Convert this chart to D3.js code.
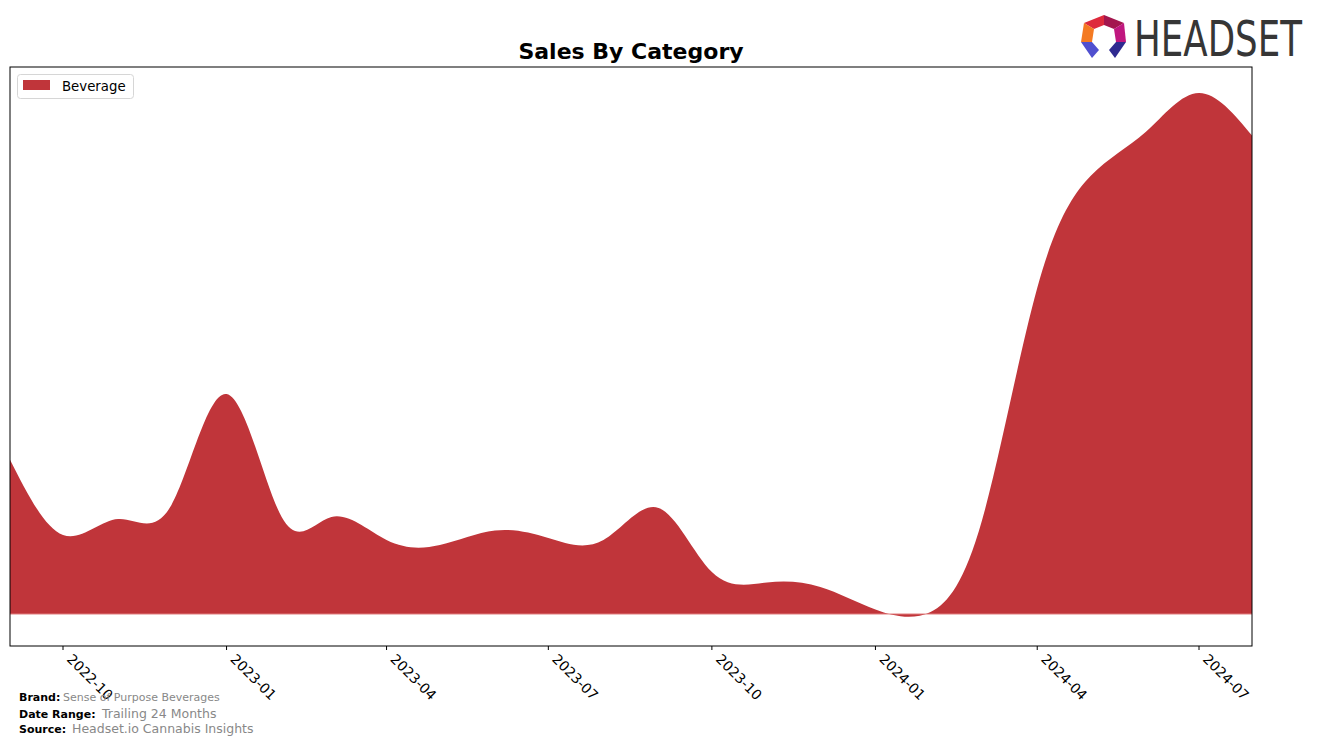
<!DOCTYPE html>
<html>
<head>
<meta charset="utf-8">
<script src="https://cdn.jsdelivr.net/npm/d3@7"></script>
<style>
  html, body { margin: 0; padding: 0; background: #fff; }
  svg { display: block; font-family: "DejaVu Sans", sans-serif; }
</style>
</head>
<body>
<svg id="chart" width="1317" height="746"></svg>
<script>
// ---- data ----
const months = ["2022-09","2022-10","2022-11","2022-12","2023-01","2023-02","2023-03","2023-04",
                "2023-05","2023-06","2023-07","2023-08","2023-09","2023-10","2023-11","2023-12",
                "2024-01","2024-02","2024-03","2024-04","2024-05","2024-06","2024-07","2024-08"];
const beverage = [155, 79, 95, 109, 220, 97, 97, 74,
                  69, 83.5, 76, 74, 106, 42, 31.5, 27,
                  4.5, 2, 94, 326, 438, 482, 521, 476];
const tickLabels = ["2022-10","2023-01","2023-04","2023-07","2023-10","2024-01","2024-04","2024-07"];
const seriesName = "Beverage";
const brand = "Sense of Purpose Beverages";
const dateRange = "Trailing 24 Months";
const source = "Headset.io Cannabis Insights";

(function () {
const parse = d3.timeParse("%Y-%m");
const data = months.map((m, i) => ({ date: parse(m), value: beverage[i] }));

const svg = d3.select("#chart");
const L = 10, R = 1252, T = 67, B = 646;

const x = d3.scaleTime()
  .domain([parse("2022-10"), parse("2024-07")])
  .range([63, 1199]);
const y = d3.scaleLinear().domain([-32, 547]).range([B, T]);

svg.append("defs").append("clipPath").attr("id", "clip")
  .append("rect").attr("x", L).attr("y", T).attr("width", R - L).attr("height", B - T);

const color = "#c0353a";
const area = d3.area()
  .x(d => x(d.date))
  .y0(y(0))
  .y1(d => y(d.value))
  .curve(d3.curveNatural);

const g = svg.append("g").attr("clip-path", "url(#clip)");
g.append("path").datum(data).attr("d", area).attr("fill", color);
g.append("line").attr("x1", L).attr("x2", R).attr("y1", y(0)).attr("y2", y(0))
  .attr("stroke", "#e07c7c").attr("stroke-width", 1);

// axes frame
svg.append("rect").attr("x", L).attr("y", T).attr("width", R - L).attr("height", B - T)
  .attr("fill", "none").attr("stroke", "#000").attr("stroke-width", 1);

// x ticks
const tickDates = tickLabels.map(parse);
const tg = svg.append("g").selectAll("g").data(tickDates).enter().append("g");
tg.append("line").attr("x1", d => x(d)).attr("x2", d => x(d))
  .attr("y1", B).attr("y2", B + 4).attr("stroke", "#000").attr("stroke-width", 1);
tg.append("text")
  .attr("transform", d => `translate(${x(d) + 3},${B + 14}) rotate(45)`)
  .attr("font-size", "13.9px").attr("fill", "#000")
  .text(d => d3.timeFormat("%Y-%m")(d));

// title
svg.append("text").attr("x", (L + R) / 2).attr("y", 59).attr("text-anchor", "middle")
  .attr("font-size", "22px").attr("font-weight", "bold").text("Sales By Category");

// legend
const lg = svg.append("g");
lg.append("rect").attr("x", 17.5).attr("y", 74.5).attr("width", 116).attr("height", 24).attr("rx", 3)
  .attr("fill", "#fff").attr("stroke", "#d6d6d6").attr("stroke-width", 1);
lg.append("rect").attr("x", 23).attr("y", 80).attr("width", 27).attr("height", 10).attr("fill", color);
lg.append("text").attr("x", 62).attr("y", 90.5).attr("font-size", "13.3px").text(seriesName);

// footer
const foot = [
  { label: "Brand:", value: brand, y: 701, vx: 63, vs: 11 },
  { label: "Date Range:", value: dateRange, y: 718, vx: 102, vs: 12.5 },
  { label: "Source:", value: source, y: 733, vx: 72, vs: 12.5 }
];
foot.forEach(f => {
  svg.append("text").attr("x", 19).attr("y", f.y).attr("font-size", "11px").attr("font-weight", "bold")
    .attr("fill", "#000").text(f.label);
  svg.append("text").attr("x", f.vx).attr("y", f.y).attr("font-size", f.vs + "px")
    .attr("fill", "#888").text(f.value);
});

// logo
const logo = svg.append("g");
const polys = [
  { pts: [[1084,23],[1104,15],[1104,25],[1094,29]], c: "#de2a3c" },
  { pts: [[1104,15],[1124,23],[1114,29],[1104,25]], c: "#a3164e" },
  { pts: [[1084,23],[1094,29],[1092,42],[1081,42]], c: "#f47a22" },
  { pts: [[1124,23],[1126,42],[1116,42],[1114,29]], c: "#c0177f" },
  { pts: [[1081,42],[1092,42],[1099,50],[1092,58]], c: "#5050cf" },
  { pts: [[1126,42],[1116,42],[1109,50],[1115,58]], c: "#2f2a90" }
];
polys.forEach(p => {
  logo.append("polygon").attr("points", p.pts.map(q => q.join(",")).join(" ")).attr("fill", p.c);
});
const lt = logo.append("text").attr("x", 0).attr("y", 0).attr("font-size", "49px")
  .attr("font-family", "'DejaVu Sans Condensed', 'DejaVu Sans', sans-serif")
  .attr("fill", "#363636").text("HEADSET");
const w = lt.node().getComputedTextLength();
lt.attr("transform", `translate(1134,56) scale(${168 / w},1)`);
})();
</script>
</body>
</html>
